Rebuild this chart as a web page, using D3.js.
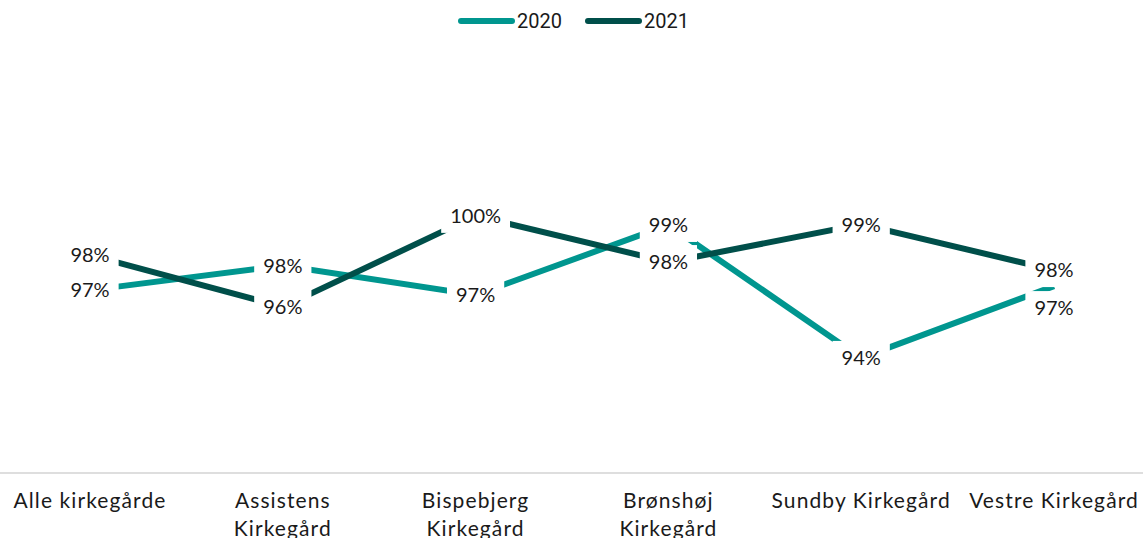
<!DOCTYPE html>
<html>
<head>
<meta charset="utf-8">
<script src="https://cdn.jsdelivr.net/npm/d3@7"></script>
<style>
  body { margin: 0; background: #fff; }
  .chart svg { display: block; }
  .val-label { font-family: Lato, "Open Sans", sans-serif; fill: #1a1a1a; }
  .axis-label { font-family: Lato, "Open Sans", sans-serif; fill: #1a1a1a; letter-spacing: 1.1px; }
  .legend text { font-family: Roboto, sans-serif; fill: #1a1a1a; }
</style>
</head>
<body>
<div class="chart"></div>
<script>
const width = 1143,
      height = 538;

// data
const categories = ["Alle kirkegårde", "Assistens Kirkegård", "Bispebjerg Kirkegård",
                    "Brønshøj Kirkegård", "Sundby Kirkegård", "Vestre Kirkegård"];
const tickLabels = [["Alle kirkegårde"], ["Assistens", "Kirkegård"], ["Bispebjerg", "Kirkegård"],
                    ["Brønshøj", "Kirkegård"], ["Sundby Kirkegård"], ["Vestre Kirkegård"]];
const values2020 = [96.85, 97.77, 96.67, 99.29, 94.31, 97.0];
const values2021 = [98.16, 96.22, 99.63, 97.9, 99.31, 97.6];
const seriesNames = ["2020", "2021"];
const colors = ["#00968f", "#004f4a"];

const series = [values2020, values2021].map((vals, i) => ({
  name: seriesNames[i],
  color: colors[i],
  points: vals.map((v, j) => ({cat: categories[j], v: v}))
}));

const svg = d3.select(".chart")
              .append("svg")
              .attr("width", width)
              .attr("height", height)
              .attr("viewBox", [0, 0, width, height]);

const x = d3.scalePoint().domain(categories).range([90, 1054]);
const y = d3.scaleLinear().domain([90, 100]).range([473, 206]);

// baseline
svg.append("line")
   .attr("x1", 0).attr("x2", width)
   .attr("y1", y(90)).attr("y2", y(90))
   .attr("stroke", "#dedede").attr("stroke-width", 2);

// x axis labels
const ticks = svg.append("g").selectAll("text")
   .data(categories).enter().append("text")
   .classed("axis-label", true)
   .attr("text-anchor", "middle")
   .attr("x", d => x(d))
   .attr("y", 508)
   .style("font-size", "21px");
ticks.each(function(d, i) {
  tickLabels[i].forEach((line, k) => {
    d3.select(this).append("tspan")
      .attr("x", x(d))
      .attr("dy", k == 0 ? 0 : 28)
      .text(line);
  });
});

// lines
const line = d3.line().x(d => x(d.cat)).y(d => y(d.v));
svg.append("g").selectAll("path")
   .data(series).enter().append("path")
   .attr("d", d => line(d.points))
   .attr("fill", "none")
   .attr("stroke", d => d.color)
   .attr("stroke-width", 6);

// value labels, pushed apart when they collide
var labels = [];
categories.forEach((c, j) => {
  var ls = series.map(s => ({cat: c, v: s.points[j].v, ly: y(s.points[j].v)}))
                 .sort((a, b) => a.ly - b.ly);
  if (ls[1].ly - ls[0].ly < 34) ls[1].ly = ls[0].ly + 38;
  labels = labels.concat(ls);
});

const lg = svg.append("g").selectAll("g")
   .data(labels).enter().append("g")
   .attr("transform", d => "translate(" + x(d.cat) + "," + d.ly + ")");
const lt = lg.append("text")
   .classed("val-label", true)
   .attr("text-anchor", "middle")
   .attr("dy", "0.36em")
   .style("font-size", "20px")
   .text(d => Math.round(d.v) + "%");
lt.each(function() {
  var w = this.getComputedTextLength() + 18;
  d3.select(this.parentNode).insert("rect", "text")
    .attr("x", -w / 2).attr("y", -17)
    .attr("width", w).attr("height", 34)
    .attr("fill", "#fff");
});

// legend
const legend = svg.append("g").classed("legend", true);
const legendX = [458, 585];
series.forEach((s, i) => {
  legend.append("line")
        .attr("x1", legendX[i] + 3).attr("x2", legendX[i] + 54)
        .attr("y1", 21).attr("y2", 21)
        .attr("stroke", s.color).attr("stroke-width", 6)
        .attr("stroke-linecap", "round");
  legend.append("text")
        .attr("x", legendX[i] + 59)
        .attr("y", 21)
        .attr("dy", "0.35em")
        .style("font-size", "20px")
        .text(s.name);
});
</script>
</body>
</html>
